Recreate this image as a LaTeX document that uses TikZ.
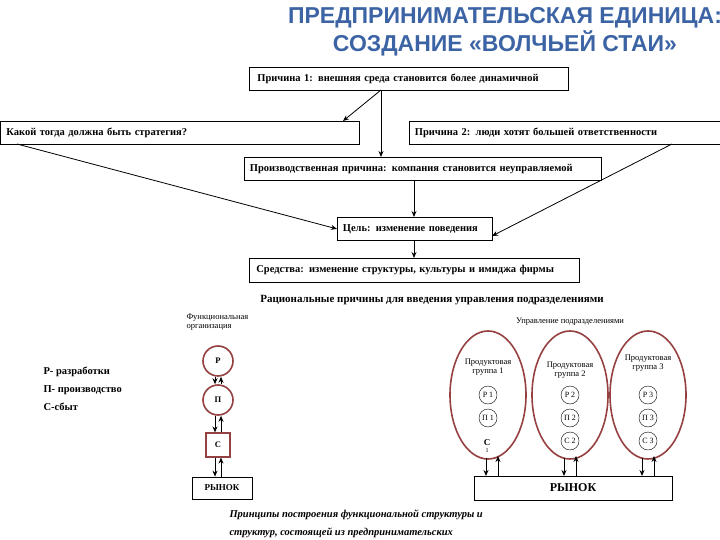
\documentclass[tikz,border=0pt]{standalone}
\usepackage{fontspec}
\setmainfont{Liberation Serif}
\newfontfamily\titlefont{Liberation Sans}
\usetikzlibrary{arrows.meta,shapes.geometric}
\definecolor{ttl}{RGB}{60,100,165}
\definecolor{ell}{RGB}{150,65,65}
\begin{document}
\begin{tikzpicture}[x=1pt,y=-1pt,
  bx/.style={draw,thick,inner sep=0pt,anchor=north west,font=\fontsize{10.5}{11}\selectfont\bfseries},
  ar/.style={thick,-{Stealth[length=6pt,width=5pt]}},
  sm/.style={font=\fontsize{8.5}{9.5}\selectfont,align=center},
  rc/.style={draw,circle,minimum size=18pt,inner sep=0pt,font=\fontsize{8}{8}\selectfont},
  el/.style={draw=ell,line width=1.6pt}]
\useasboundingbox (0,0) rectangle (720,540);
\node[font=\titlefont\fontsize{23}{28}\selectfont\bfseries,text=ttl,align=center] (t) at (505,32) {ПРЕДПРИНИМАТЕЛЬСКАЯ ЕДИНИЦА:\\СОЗДАНИЕ «ВОЛЧЬЕЙ СТАИ»};
% boxes
\node[bx,minimum width=319pt,minimum height=23pt,text width=315pt,align=left] (b1) at (249,67) {\hspace*{6pt}Причина 1: внешняя среда становится более динамичной};
\node[bx,minimum width=359pt,minimum height=23pt,text width=355pt,align=left] (b2) at (0,121) {\hspace*{4pt}Какой тогда должна быть стратегия?};
\node[bx,minimum width=311pt,minimum height=23pt,text width=308pt,align=left] (b3) at (409,121) {\hspace*{4pt}Причина 2: люди хотят большей ответственности};
\node[bx,minimum width=357pt,minimum height=23pt,text width=354pt,align=left] (b4) at (244,157) {\hspace*{4pt}Производственная причина: компания становится неуправляемой};
\node[bx,minimum width=155pt,minimum height=23pt,text width=152pt,align=left] (b5) at (337,217) {\hspace*{4pt}Цель: изменение поведения};
\node[bx,minimum width=330pt,minimum height=24pt,text width=326pt,align=left] (b6) at (249,258) {\hspace*{5pt}Средства: изменение структуры, культуры и имиджа фирмы};
\coordinate (p1) at (381,90);
\draw[ar] (p1) -- (343,121);
\draw[ar] (p1) -- (381,157);
\draw[ar] (414,180) -- (414,217);
\draw[ar] (414,240) -- (414,258);
\draw[ar] (17,144) -- (b5.west);
\draw[ar] (672,144) -- (492,236);
% lower part
\node[font=\fontsize{11}{12}\selectfont\bfseries] (h) at (432,300) {Рациональные причины для введения управления подразделениями};
\node[sm,align=left,anchor=west] (fo) at (183,322) {Функциональная\\организация};
\node[font=\fontsize{10.5}{18}\selectfont\bfseries,align=left,anchor=west] (lg) at (40,389) {Р- разработки\\П- производство\\С-сбыт};
\node[draw=ell,line width=1.6pt,circle,minimum size=30pt,inner sep=0pt,font=\fontsize{8.5}{9}\selectfont\bfseries] (r) at (218,361) {Р};
\node[draw=ell,line width=1.6pt,circle,minimum size=30pt,inner sep=0pt,font=\fontsize{8.5}{9}\selectfont\bfseries] (p) at (218,400) {П};
\node[draw=ell,line width=1.2pt,minimum size=24pt,inner sep=0pt,font=\fontsize{8.5}{9}\selectfont\bfseries] (c) at (218,445) {С};
\node[draw,thick,minimum width=60pt,minimum height=22pt,inner sep=0pt,font=\fontsize{9}{9}\selectfont\bfseries] (m1) at (222,488) {РЫНОК};
\foreach \a/\b in {r/p,p/c,c/m1}{
  \draw[ar] (215,0 |- \a.south) -- (215,0 |- \b.north);
  \draw[ar] (221,0 |- \b.north) -- (221,0 |- \a.south);
}
\node[sm] (ud) at (570,322) {Управление подразделениями};
\foreach \i/\x/\gy in {1/488/367,2/570/370,3/648/363}{
  \node[el,ellipse,minimum width=76pt,minimum height=128pt] (e\i) at (\x,395) {};
  \node[sm] (g\i) at (\x,\gy) {Продуктовая\\группа \i};
  \node[rc] (rr\i) at (\x,395) {Р \i};
  \node[rc] (pp\i) at (\x,418) {П \i};
}
\node[rc] (cc2) at (570,441) {С 2};
\node[rc] (cc3) at (648,441) {С 3};
\node[font=\fontsize{9}{8}\selectfont\bfseries,align=center] (cc1) at (487,446) {С\\[-1pt]{\mdseries\fontsize{6}{6}\selectfont 1}};
\node[draw,thick,minimum width=198pt,minimum height=24pt,inner sep=0pt,font=\fontsize{12}{12}\selectfont\bfseries] (m2) at (573,488) {РЫНОК};
\foreach \x in {486,564,642}{
  \draw[ar] (\x,458) -- (\x,476);
  \draw[ar] (\x+12,476) -- (\x+12,456);
}
\node[font=\fontsize{10.5}{18}\selectfont\bfseries\itshape,align=left,anchor=west] (pr) at (226,524) {Принципы построения функциональной структуры и\\структур, состоящей из предпринимательских};
\end{tikzpicture}
\end{document}
